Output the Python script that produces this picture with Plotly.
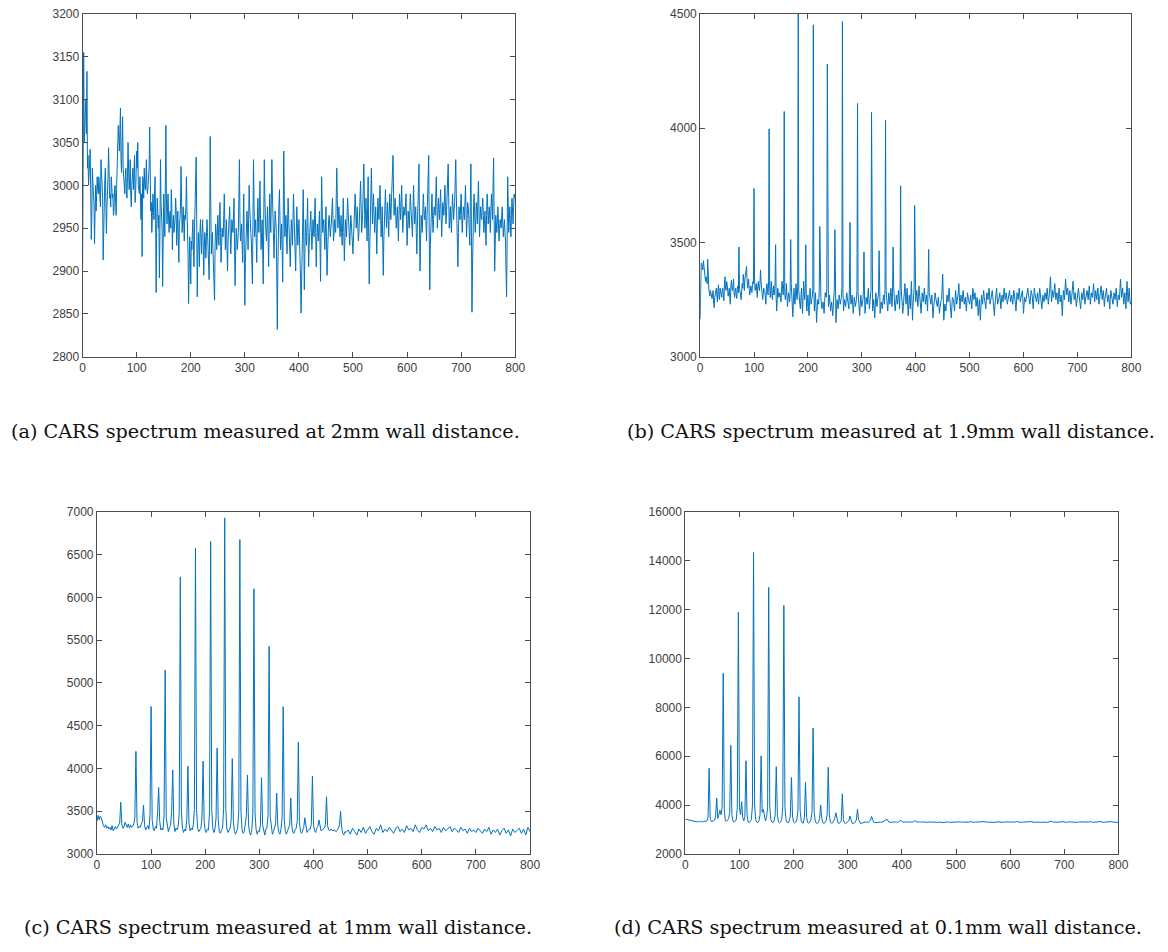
import plotly.graph_objects as go

# ---------------- data ----------------
x_ticks = [0, 100, 200, 300, 400, 500, 600, 700, 800]

# (a) 2 mm wall distance: values at even x (0..800) and at odd x (1..799)
a_y_even = [
    2905, 3155, 3070, 3100, 3133, 3035, 3010, 3042, 2937, 3020,
    2990, 2932, 3000, 2985, 2995, 3010, 2990, 3030, 3000, 2913,
    2990, 3020, 2944, 2990, 3044, 2985, 2975, 3000, 2990, 2970,
    3000, 2965, 3020, 3070, 3040, 3090, 3015, 3080, 3005, 2990,
    3020, 2985, 3050, 2995, 3030, 2975, 3010, 2995, 3035, 2990,
    3040, 3050, 2995, 3010, 2960, 2917, 3005, 3020, 2995, 3030,
    2990, 3010, 3068, 2970, 2945, 2990, 2960, 3010, 2875, 2985,
    2950, 2892, 3030, 2960, 2882, 2990, 2940, 3070, 2955, 2990,
    2945, 2970, 2995, 2925, 2965, 2950, 2985, 2930, 2970, 2910,
    2960, 3022, 2945, 2975, 2935, 2960, 3010, 2950, 2862, 2940,
    2885, 2925, 2960, 2905, 2975, 3033, 2870, 2945, 2905, 2960,
    2920, 2960, 2895, 2945, 2915, 2960, 2925, 2890, 3057, 2920,
    2945, 2910, 2866, 2955, 2925, 2965, 2930, 2980, 2910, 2950,
    2940, 2990, 2925, 2960, 2900, 2945, 2975, 2920, 2960, 2945,
    2985, 2883, 2950, 2925, 2945, 3030, 2935, 2955, 2910, 2990,
    2860, 2945, 2970, 2925, 3000, 2950, 2935, 2885, 3030, 2940,
    2960, 2910, 2985, 2945, 3005, 2925, 2960, 2885, 3030, 2950,
    2935, 2975, 2905, 2990, 2945, 3030, 2960, 2915, 2970, 2950,
    2832, 2960, 2995, 2925, 2955, 2887, 3040, 2940, 2965, 2920,
    2985, 2945, 2905, 2960, 2930, 2990, 2945, 2900, 2975, 2930,
    2960, 2920, 2851, 2945, 2995, 2878, 2960, 2930, 2985, 2905,
    2950, 2970, 2925, 2960, 2940, 2985, 2905, 2955, 2935, 2970,
    2888, 3010, 2945, 2960, 2925, 2975, 2895, 2950, 2965, 2940,
    2955, 2985, 2935, 2960, 2945, 3020, 2950, 2975, 2940, 2965,
    2930, 2985, 2912, 2960, 2940, 2985, 2955, 2930, 2965, 2945,
    2920, 2960, 2990, 2950, 2975, 2935, 2960, 3005, 2945, 2970,
    3025, 2950, 2985, 2935, 3010, 2885, 2965, 3020, 2955, 2990,
    2945, 2975, 2920, 2985, 2960, 3000, 2940, 2975, 2895, 2965,
    2995, 2950, 2980, 2940, 2990, 2960, 3000, 3035, 2965, 2985,
    2950, 2975, 2935, 2990, 2960, 3000, 2945, 2975, 2965, 2990,
    2930, 2970, 2950, 2990, 2960, 2940, 3000, 2955, 2975, 2920,
    2980, 3025, 2900, 2965, 2945, 2990, 2960, 2975, 2935, 2990,
    3035, 2878, 2960, 2990, 2945, 2975, 2965, 3010, 2950, 2985,
    2960, 2995, 2940, 2980, 2965, 3000, 2955, 2985, 3025, 2950,
    2975, 2945, 2990, 2960, 2980, 3030, 2950, 2905, 2975, 2960,
    2990, 2945, 2975, 2960, 3000, 2940, 2980, 2965, 2930, 3025,
    2852, 2960, 2990, 2945, 2980, 2955, 3005, 2940, 2975, 2960,
    2985, 2945, 2970, 2930, 2990, 2955, 2975, 2945, 2990, 2960,
    3032, 2900, 2965, 2945, 2975, 2935, 2960, 2950, 2975, 2940,
    2960, 2935, 2870, 3010, 2945, 2975, 2940, 2985, 2955, 2990,
    2985,
]
a_y_odd = [
    3110, 3050, 3090, 3060, 3020, 3000, 3030, 2990, 2960, 3005,
    2980, 3000, 2970, 3010, 2990, 3000, 2975, 3010, 2985, 2960,
    3005, 2990, 2975, 3010, 3000, 2990, 3010, 2985, 2965, 2995,
    2980, 3000, 3045, 3055, 3065, 3030, 3050, 3020, 3000, 3010,
    2995, 3010, 3020, 3005, 2990, 3000, 3020, 3010, 2980, 3015,
    3020, 3000, 2990, 2975, 2990, 3010, 2985, 3000, 3010, 2995,
    3000, 3020, 2995, 2980, 2965, 2975, 2990, 2960, 2950, 2970,
    2965, 2945, 2980, 2950, 2965, 2970, 3000, 2985, 2970, 2960,
    2965, 2950, 2975, 2955, 2945, 2960, 2970, 2950, 2940, 2955,
    2975, 2985, 2960, 2950, 2965, 2975, 2970, 2920, 2930, 2915,
    2935, 2945, 2925, 2950, 2985, 2960, 2920, 2930, 2945, 2935,
    2945, 2930, 2925, 2935, 2940, 2945, 2915, 2960, 2980, 2935,
    2925, 2905, 2930, 2945, 2940, 2950, 2960, 2945, 2930, 2940,
    2965, 2955, 2945, 2925, 2935, 2960, 2945, 2940, 2955, 2965,
    2930, 2920, 2940, 2935, 2985, 2960, 2945, 2930, 2955, 2920,
    2910, 2955, 2950, 2960, 2975, 2945, 2915, 2960, 2980, 2950,
    2935, 2950, 2965, 2975, 2960, 2945, 2925, 2960, 2985, 2945,
    2955, 2940, 2950, 2965, 2985, 2990, 2940, 2945, 2960, 2900,
    2900, 2975, 2960, 2940, 2925, 2965, 2985, 2950, 2945, 2955,
    2965, 2925, 2935, 2945, 2960, 2965, 2920, 2940, 2955, 2945,
    2940, 2890, 2905, 2965, 2935, 2920, 2945, 2955, 2945, 2930,
    2960, 2945, 2940, 2950, 2965, 2945, 2935, 2945, 2955, 2930,
    2950, 2975, 2955, 2940, 2950, 2935, 2920, 2960, 2950, 2950,
    2970, 2960, 2945, 2950, 2985, 2985, 2960, 2955, 2950, 2945,
    2955, 2945, 2935, 2950, 2965, 2970, 2940, 2950, 2955, 2930,
    2940, 2975, 2970, 2965, 2950, 2945, 2985, 2975, 2955, 2995,
    2990, 2965, 2960, 2975, 2940, 2925, 2990, 2985, 2975, 2965,
    2960, 2950, 2955, 2970, 2980, 2970, 2955, 2930, 2935, 2980,
    2970, 2965, 2960, 2965, 2975, 2980, 3020, 2990, 2975, 2965,
    2960, 2955, 2965, 2975, 2980, 2970, 2960, 2970, 2980, 2960,
    2950, 2960, 2970, 2975, 2950, 2970, 2975, 2965, 2945, 2950,
    3005, 2950, 2935, 2955, 2970, 2975, 2965, 2955, 2965, 3010,
    2940, 2930, 2975, 2965, 2960, 2970, 2990, 2980, 2965, 2970,
    2980, 2965, 2960, 2975, 2985, 2975, 2970, 3005, 2985, 2960,
    2960, 2970, 2975, 2970, 3005, 2990, 2925, 2945, 2965, 2975,
    2965, 2960, 2970, 2980, 2970, 2960, 2975, 2945, 2980, 2950,
    2905, 2975, 2965, 2960, 2970, 2985, 2970, 2960, 2965, 2975,
    2965, 2955, 2950, 2965, 2975, 2965, 2960, 2970, 2975, 3000,
    2960, 2930, 2955, 2960, 2955, 2950, 2955, 2965, 2955, 2950,
    2945, 2900, 2935, 2980, 2960, 2955, 2965, 2970, 2975, 2985,
]

# (b) 1.9 mm wall distance: even x (0..800) and odd x (1..799)
b_y_even = [
    3165, 3410, 3395, 3420, 3360, 3330, 3340, 3426, 3300, 3265,
    3280, 3255, 3290, 3215, 3270, 3300, 3240, 3315, 3250, 3280,
    3260, 3300, 3245, 3350, 3290, 3320, 3265, 3300, 3230, 3335,
    3290, 3340, 3260, 3300, 3255, 3310, 3480, 3290, 3250, 3320,
    3360, 3290, 3370, 3395, 3300, 3340, 3270, 3310, 3280, 3330,
    3736, 3290, 3320, 3260, 3330, 3290, 3380, 3310, 3250, 3300,
    3285, 3230, 3320, 3270, 3997, 3260, 3330, 3250, 3310, 3280,
    3490, 3200, 3300, 3260, 3280, 3240, 3330, 3270, 4073, 3250,
    3320, 3220, 3280, 3240, 3513, 3260, 3175, 3300, 3230, 3320,
    3250, 4510, 3240, 3210, 3300, 3190, 3330, 3250, 3490, 3200,
    3270, 3180, 3300, 3230, 3260, 4452, 3200, 3280, 3150, 3250,
    3230, 3570, 3260, 3210, 3240, 3190, 3280, 3260, 4281, 3220,
    3270, 3200, 3240, 3180, 3260, 3556, 3150, 3250, 3210, 3270,
    3230, 3260, 4467, 3200, 3250, 3220, 3280, 3240, 3210, 3588,
    3230, 3270, 3190, 3260, 3220, 3250, 4108, 3240, 3180, 3270,
    3220, 3250, 3458, 3190, 3260, 3230, 3300, 3210, 3270, 4069,
    3200, 3250, 3170, 3280, 3220, 3260, 3464, 3190, 3240, 3210,
    3270, 3230, 4034, 3250, 3200, 3280, 3230, 3300, 3220, 3480,
    3240, 3200, 3270, 3230, 3290, 3210, 3748, 3260, 3190, 3250,
    3320, 3230, 3300, 3180, 3270, 3210, 3330, 3160, 3290, 3662,
    3240, 3290, 3220, 3310, 3250, 3190, 3280, 3240, 3300, 3230,
    3270, 3200, 3470, 3260, 3230, 3270, 3170, 3250, 3280, 3240,
    3220, 3260, 3190, 3240, 3250, 3361, 3160, 3230, 3200, 3270,
    3240, 3300, 3220, 3170, 3260, 3250, 3200, 3290, 3230, 3260,
    3320, 3210, 3270, 3240, 3290, 3230, 3260, 3200, 3280, 3250,
    3230, 3270, 3210, 3300, 3250, 3280, 3220, 3260, 3180, 3250,
    3160, 3270, 3230, 3290, 3240, 3210, 3280, 3250, 3300, 3230,
    3260, 3290, 3240, 3180, 3270, 3300, 3230, 3250, 3280, 3210,
    3270, 3240, 3300, 3250, 3280, 3230, 3260, 3290, 3240, 3270,
    3230, 3290, 3260, 3200, 3280, 3250, 3300, 3240, 3270, 3290,
    3190, 3260, 3240, 3280, 3300, 3250, 3230, 3290, 3270, 3210,
    3300, 3260, 3240, 3280, 3230, 3300, 3260, 3210, 3270, 3240,
    3280, 3250, 3300, 3230, 3270, 3350, 3240, 3290, 3260, 3320,
    3250, 3280, 3230, 3300, 3240, 3270, 3180, 3290, 3250, 3340,
    3270, 3300, 3240, 3290, 3230, 3270, 3330, 3250, 3280, 3220,
    3260, 3300, 3240, 3210, 3280, 3250, 3300, 3230, 3270, 3290,
    3250, 3310, 3230, 3280, 3260, 3320, 3240, 3290, 3250, 3300,
    3230, 3270, 3310, 3250, 3290, 3220, 3280, 3300, 3240, 3270,
    3210, 3290, 3260, 3230, 3280, 3250, 3300, 3220, 3270, 3250,
    3340, 3260, 3300, 3230, 3280, 3210, 3330, 3240, 3300, 3230,
    3240,
]
b_y_odd = [
    3400, 3405, 3380, 3390, 3340, 3350, 3320, 3310, 3280, 3290,
    3260, 3270, 3240, 3260, 3285, 3270, 3290, 3260, 3300, 3270,
    3290, 3270, 3310, 3300, 3330, 3290, 3280, 3260, 3310, 3300,
    3310, 3280, 3290, 3270, 3300, 3280, 3300, 3270, 3290, 3300,
    3330, 3340, 3385, 3340, 3320, 3300, 3290, 3300, 3310, 3320,
    3340, 3300, 3290, 3310, 3300, 3320, 3330, 3280, 3275, 3290,
    3260, 3300, 3290, 3330, 3310, 3290, 3280, 3290, 3270, 3330,
    3260, 3250, 3280, 3270, 3260, 3290, 3300, 3320, 3280, 3270,
    3270, 3250, 3260, 3280, 3320, 3220, 3240, 3260, 3280, 3270,
    3310, 3290, 3230, 3250, 3240, 3260, 3280, 3300, 3250, 3240,
    3220, 3240, 3260, 3250, 3300, 3290, 3240, 3220, 3200, 3240,
    3300, 3280, 3230, 3225, 3215, 3240, 3270, 3300, 3250, 3240,
    3235, 3220, 3210, 3220, 3300, 3260, 3200, 3230, 3240, 3250,
    3245, 3300, 3280, 3225, 3235, 3250, 3260, 3225, 3300, 3260,
    3250, 3230, 3225, 3240, 3235, 3290, 3280, 3210, 3225, 3245,
    3235, 3290, 3270, 3225, 3245, 3265, 3255, 3240, 3290, 3300,
    3225, 3210, 3225, 3250, 3240, 3280, 3270, 3215, 3225, 3240,
    3250, 3300, 3290, 3225, 3240, 3255, 3265, 3260, 3280, 3310,
    3220, 3235, 3250, 3260, 3250, 3290, 3300, 3225, 3220, 3285,
    3275, 3265, 3240, 3225, 3240, 3270, 3245, 3225, 3300, 3290,
    3265, 3255, 3265, 3280, 3220, 3235, 3260, 3270, 3265, 3250,
    3235, 3300, 3280, 3245, 3250, 3220, 3210, 3265, 3260, 3230,
    3240, 3225, 3215, 3245, 3300, 3280, 3195, 3215, 3235, 3255,
    3270, 3260, 3195, 3215, 3255, 3225, 3245, 3260, 3245, 3280,
    3265, 3240, 3255, 3265, 3260, 3245, 3230, 3240, 3265, 3240,
    3250, 3240, 3255, 3275, 3265, 3250, 3240, 3220, 3215, 3205,
    3215, 3250, 3260, 3265, 3225, 3245, 3265, 3275, 3265, 3245,
    3275, 3265, 3210, 3225, 3285, 3265, 3240, 3265, 3245, 3240,
    3255, 3270, 3275, 3265, 3255, 3245, 3275, 3265, 3255, 3250,
    3260, 3275, 3230, 3240, 3265, 3275, 3270, 3255, 3280, 3240,
    3225, 3250, 3260, 3290, 3275, 3240, 3260, 3280, 3240, 3255,
    3280, 3250, 3260, 3255, 3265, 3280, 3235, 3240, 3255, 3260,
    3265, 3275, 3265, 3250, 3310, 3295, 3265, 3275, 3290, 3285,
    3265, 3255, 3265, 3270, 3255, 3225, 3235, 3270, 3295, 3305,
    3285, 3270, 3265, 3260, 3250, 3300, 3290, 3265, 3250, 3240,
    3280, 3270, 3225, 3245, 3265, 3275, 3265, 3250, 3280, 3270,
    3280, 3270, 3255, 3270, 3290, 3280, 3265, 3270, 3275, 3265,
    3250, 3290, 3280, 3270, 3260, 3250, 3290, 3270, 3255, 3240,
    3250, 3275, 3245, 3255, 3265, 3275, 3260, 3245, 3260, 3300,
    3300, 3280, 3265, 3255, 3245, 3270, 3285, 3270, 3265, 3235,
]

# (c) 1 mm wall distance: every 2 units on 0-458, every 4 units on 460-800
c_head_y = [
    3380, 3450, 3400, 3440, 3420, 3360, 3330, 3310, 3340, 3300,
    3320, 3290, 3310, 3280, 3330, 3270, 3300, 3320, 3290, 3310,
    3330, 3360, 3604, 3340, 3300, 3320, 3370, 3340, 3310, 3350,
    3300, 3340, 3310, 3320, 3350, 3420, 4199, 3380, 3300, 3320,
    3310, 3350, 3380, 3570, 3330, 3280, 3300, 3330, 3290, 3450,
    4724, 3400, 3290, 3270, 3320, 3300, 3480, 3777, 3380, 3280,
    3300, 3280, 3450, 5150, 3420, 3300, 3260, 3310, 3330, 3500,
    3980, 3350, 3260, 3300, 3280, 3320, 3480, 6240, 3500, 3300,
    3250, 3290, 3270, 3400, 4026, 3360, 3270, 3300, 3280, 3340,
    3520, 6578, 3520, 3300, 3260, 3280, 3300, 3420, 4084, 3380,
    3270, 3250, 3290, 3280, 3500, 6655, 3520, 3300, 3250, 3290,
    3420, 4237, 3400, 3260, 3240, 3280, 3300, 3530, 6931, 3530,
    3290, 3250, 3270, 3300, 3400, 4114, 3380, 3260, 3230, 3270,
    3300, 3500, 6677, 3500, 3280, 3240, 3260, 3350, 3450, 3923,
    3340, 3250, 3220, 3280, 3480, 6102, 3480, 3280, 3230, 3270,
    3260, 3340, 3892, 3340, 3250, 3220, 3290, 3300, 3450, 5427,
    3440, 3280, 3230, 3260, 3300, 3350, 3712, 3330, 3250, 3230,
    3290, 3420, 4720, 3400, 3260, 3230, 3270, 3300, 3340, 3654,
    3320, 3250, 3240, 3280, 3300, 3380, 4306, 3370, 3260, 3240,
    3280, 3310, 3422, 3300, 3250, 3270, 3290, 3290, 3350, 3911,
    3340, 3270, 3250, 3300, 3320, 3397, 3300, 3270, 3280, 3290,
    3300, 3340, 3668, 3330, 3280, 3270, 3290, 3280, 3270, 3280,
    3270, 3260, 3280, 3300, 3340, 3495, 3310, 3240, 3220, 3260,
]
c_tail_y = [
    3250, 3280, 3230, 3300, 3260, 3220, 3290, 3250, 3310, 3240,
    3280, 3320, 3260, 3230, 3300, 3270, 3340, 3250, 3290, 3260,
    3310, 3270, 3240, 3300, 3320, 3260, 3290, 3250, 3330, 3280,
    3300, 3260, 3340, 3280, 3250, 3310, 3290, 3340, 3270, 3300,
    3260, 3320, 3280, 3300, 3250, 3310, 3270, 3290, 3320, 3260,
    3300, 3280, 3250, 3310, 3270, 3290, 3240, 3300, 3260, 3280,
    3250, 3300, 3270, 3240, 3290, 3260, 3310, 3230, 3280, 3250,
    3290, 3220, 3270, 3300, 3240, 3280, 3210, 3290, 3250, 3270,
    3300, 3240, 3290, 3220, 3310, 3260,
]

# (d) 0.1 mm wall distance: every 2 units on 0-458, every 4 units on 460-800
d_head_y = [
    3420, 3410, 3400, 3390, 3380, 3360, 3350, 3340, 3330, 3350,
    3320, 3310, 3330, 3300, 3340, 3320, 3310, 3330, 3320, 3340,
    3350, 3500, 5503, 3420, 3330, 3330, 3350, 3380, 3550, 4282,
    3450, 3600, 3785, 3600, 3900, 9396, 3800, 3350, 3330, 3380,
    3450, 3700, 6443, 3600, 3340, 3300, 3330, 3400, 3900, 11893,
    3900, 3600, 4134, 3500, 3350, 3500, 5812, 3600, 3300, 3280,
    3320, 3400, 4000, 14336, 4000, 3400, 3300, 3280, 3350, 3600,
    6013, 3700, 3825, 3500, 3350, 3500, 3900, 12913, 3900, 3400,
    3300, 3280, 3350, 3600, 5570, 3600, 3300, 3270, 3300, 3400,
    3900, 12174, 3900, 3400, 3290, 3270, 3350, 3550, 5128, 3550,
    3300, 3260, 3300, 3400, 3800, 8430, 3800, 3350, 3270, 3260,
    3500, 4926, 3500, 3280, 3260, 3300, 3400, 3700, 7154, 3700,
    3350, 3260, 3250, 3300, 3450, 4000, 3450, 3280, 3250, 3280,
    3350, 3600, 5544, 3600, 3300, 3250, 3270, 3350, 3450, 3685,
    3400, 3270, 3250, 3280, 3350, 4456, 3400, 3260, 3240, 3270,
    3300, 3350, 3550, 3350, 3260, 3240, 3280, 3300, 3400, 3825,
    3400, 3280, 3230, 3260, 3280, 3300, 3290, 3310, 3300, 3290,
    3320, 3380, 3530, 3380, 3300, 3280, 3290, 3300, 3290, 3310,
    3300, 3290, 3310, 3300, 3320, 3370, 3430, 3360, 3300, 3290,
    3300, 3310, 3290, 3300, 3310, 3300, 3290, 3320, 3340, 3380,
    3320, 3300, 3290, 3310, 3300, 3290, 3300, 3310, 3300, 3290,
    3300, 3320, 3370, 3310, 3290, 3300, 3310, 3290, 3300, 3310,
    3300, 3290, 3310, 3300, 3290, 3300, 3320, 3300, 3290, 3310,
]
d_tail_y = [
    3300, 3290, 3310, 3300, 3280, 3300, 3310, 3290, 3300, 3310,
    3290, 3300, 3310, 3300, 3290, 3310, 3300, 3320, 3290, 3300,
    3310, 3290, 3300, 3320, 3300, 3290, 3310, 3300, 3290, 3310,
    3300, 3320, 3290, 3310, 3300, 3290, 3310, 3300, 3320, 3300,
    3290, 3300, 3310, 3290, 3300, 3320, 3290, 3310, 3300, 3290,
    3310, 3300, 3290, 3310, 3330, 3300, 3290, 3310, 3300, 3320,
    3300, 3290, 3310, 3300, 3320, 3300, 3290, 3310, 3300, 3290,
    3310, 3300, 3320, 3290, 3300, 3310, 3300, 3320, 3290, 3310,
    3300, 3320, 3310, 3290, 3300, 3280,
]

captions = [
    "(a) CARS spectrum measured at 2mm wall distance.",
    "(b) CARS spectrum measured at 1.9mm wall distance.",
    "(c) CARS spectrum measured at 1mm wall distance.",
    "(d) CARS spectrum measured at 0.1mm wall distance.",
]
y_ranges = [(2800, 3200, 50), (3000, 4500, 500), (3000, 7000, 500), (2000, 16000, 2000)]


# ---------------- x positions (sample grid) ----------------
def interleave(even, odd):
    xs, ys = [], []
    for i, v in enumerate(even):
        xs.append(2 * i)
        ys.append(v)
        if i < len(odd):
            xs.append(2 * i + 1)
            ys.append(odd[i])
    return xs, ys


assert len(a_y_even) == 401 and len(a_y_odd) == 400, (len(a_y_even), len(a_y_odd))
assert len(b_y_even) == 401 and len(b_y_odd) == 400, (len(b_y_even), len(b_y_odd))
a_x, a_y = interleave(a_y_even, a_y_odd)
b_x, b_y = interleave(b_y_even, b_y_odd)
head_x = list(range(0, 460, 2))
tail_x = list(range(460, 801, 4))
assert len(c_head_y) == len(head_x) and len(d_head_y) == len(head_x)
assert len(c_tail_y) == len(tail_x) and len(d_tail_y) == len(tail_x)
c_x, c_y = head_x + tail_x, c_head_y + c_tail_y
d_x, d_y = head_x + tail_x, d_head_y + d_tail_y

series = [(a_x, a_y), (b_x, b_y), (c_x, c_y), (d_x, d_y)]

# ---------------- layout geometry (page pixels, page margin removed) ----------------
W, H = 1168, 952
boxes = [  # x0, x1, ytop, ybottom
    (80.5, 518, 7, 355),
    (705, 1141, 7, 355),
    (95, 533, 512.5, 859.5),
    (690, 1128, 512.5, 859.5),
]
cap_pos = [(265, 431), (898, 431), (278, 934), (885, 934)]

LINE = "#0072BD"
AX = "#4d4d4d"
TICKFONT = dict(family="Liberation Sans, Arial, sans-serif", size=12, color="#404040")

fig = go.Figure()
layout = dict(
    width=W, height=H, margin=dict(l=0, r=0, t=0, b=0),
    paper_bgcolor="white", plot_bgcolor="white", showlegend=False,
)


def px_x(v):
    return v / W


def px_y(v):
    return 1 - v / H


for i, ((xs, ys), (x0, x1, yt, yb), (y0, y1, dy)) in enumerate(zip(series, boxes, y_ranges)):
    n = "" if i == 0 else str(i + 1)
    fig.add_trace(go.Scatter(x=xs, y=ys, mode="lines", line=dict(color=LINE, width=1),
                             xaxis="x" + n, yaxis="y" + n, hoverinfo="skip"))
    common = dict(showgrid=False, zeroline=False, showline=True, linecolor=AX, linewidth=1,
                  mirror="allticks", ticks="inside", ticklen=5, tickcolor=AX, tickwidth=1,
                  tickfont=TICKFONT)
    layout["xaxis" + n] = dict(domain=[px_x(x0), px_x(x1)], anchor="y" + n,
                               range=[0, 800], tickvals=x_ticks,
                               ticktext=[str(v) for v in x_ticks], **common)
    layout["yaxis" + n] = dict(domain=[px_y(yb), px_y(yt)], anchor="x" + n,
                               range=[y0, y1], dtick=dy, tick0=y0, tickformat="d", **common)

annotations = []
for cap, (cx, cy) in zip(captions, cap_pos):
    annotations.append(dict(text=cap, x=px_x(cx), y=px_y(cy), xref="paper", yref="paper",
                            xanchor="center", yanchor="middle", showarrow=False,
                            font=dict(family="DejaVu Serif, serif", size=19.2, color="#111111")))
layout["annotations"] = annotations
fig.update_layout(**layout)
fig.write_html(
    "out.html",
    config={"displayModeBar": False, "staticPlot": True},
    post_script="document.documentElement.style.margin='0';"
                "document.body.style.margin='0';document.body.style.padding='0';"
                "document.body.style.overflow='hidden';",
)
